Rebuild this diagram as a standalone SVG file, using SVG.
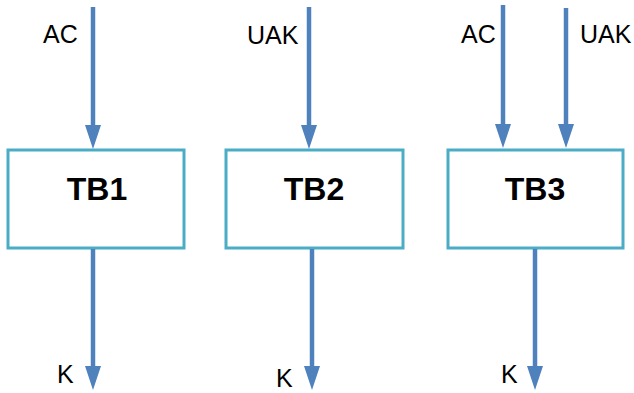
<svg xmlns="http://www.w3.org/2000/svg" width="634" height="393" viewBox="0 0 634 393">
<style>
.box{fill:#fff;stroke:#4BACC6;stroke-width:3}
.lbl{font-family:"Liberation Sans",Arial,sans-serif;font-size:25px;fill:#000}
.title{font-family:"Liberation Sans",Arial,sans-serif;font-size:32px;font-weight:bold;fill:#000;text-anchor:middle}
.arr{stroke:#4F81BD;stroke-width:4.5;fill:none;marker-end:url(#ah)}
</style>
<defs>
<marker id="ah" markerUnits="userSpaceOnUse" markerWidth="24" markerHeight="16" refX="0" refY="8" orient="auto" viewBox="0 0 24 16">
<path d="M0,0 L24,8 L0,16 z" fill="#4F81BD"/>
</marker>
</defs>
<g id="tb1">
<rect class="box" x="8" y="150" width="176" height="98"/>
<text class="title" x="97" y="200">TB1</text>
</g>
<g id="tb2">
<rect class="box" x="226" y="150" width="177" height="98"/>
<text class="title" x="314" y="200">TB2</text>
</g>
<g id="tb3">
<rect class="box" x="448" y="150" width="175" height="98"/>
<text class="title" x="535" y="200">TB3</text>
</g>
<g id="connectors">
<line class="arr" x1="93" y1="7" x2="93" y2="125"/>
<line class="arr" x1="93" y1="249" x2="93" y2="366"/>
<line class="arr" x1="309" y1="7" x2="309" y2="125"/>
<line class="arr" x1="312" y1="249" x2="312" y2="366"/>
<line class="arr" x1="503" y1="5" x2="503" y2="124"/>
<line class="arr" x1="566" y1="8" x2="566" y2="124"/>
<line class="arr" x1="535" y1="249" x2="535" y2="366"/>
</g>
<g id="labels">
<text class="lbl" x="43" y="43">AC</text>
<text class="lbl" x="247" y="44">UAK</text>
<text class="lbl" x="461" y="43">AC</text>
<text class="lbl" x="580" y="43">UAK</text>
<text class="lbl" x="57" y="383">K</text>
<text class="lbl" x="276" y="387">K</text>
<text class="lbl" x="501" y="383">K</text>
</g>
</svg>
